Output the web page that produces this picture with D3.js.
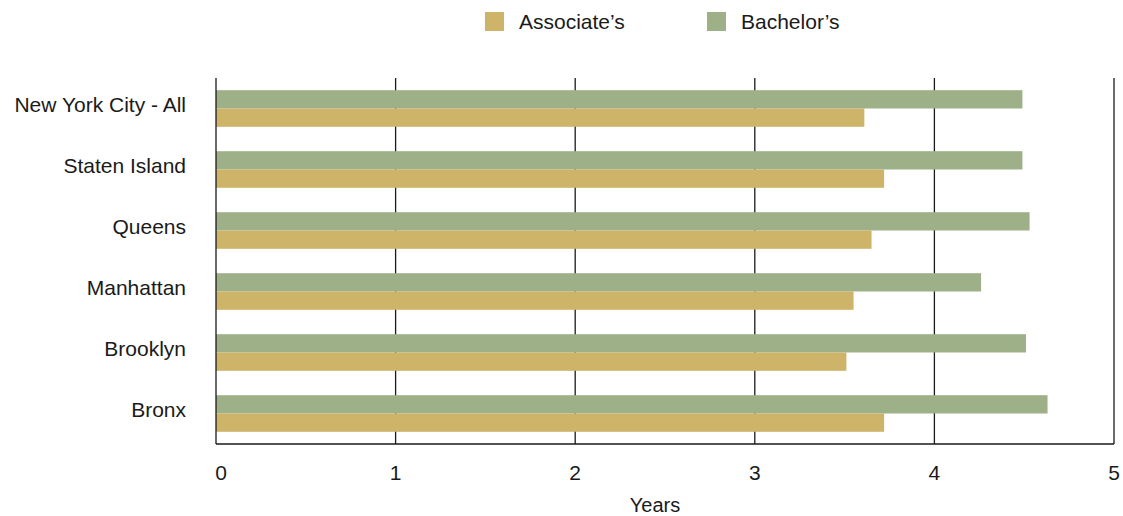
<!DOCTYPE html>
<html><head><meta charset="utf-8">
<script src="https://cdn.jsdelivr.net/npm/d3@7"></script>
<style>body{margin:0;background:#fff;}svg{display:block;font-family:"Liberation Sans",Arial,sans-serif;}</style>
</head><body>
<svg id="chart" width="1123" height="516"></svg>
<script>
const categories = ["New York City - All","Staten Island","Queens","Manhattan","Brooklyn","Bronx"];
const seriesNames = ["Bachelor’s","Associate’s"];
const bachelors = [4.49,4.49,4.53,4.26,4.51,4.63];
const associates = [3.61,3.72,3.65,3.55,3.51,3.72];
const xTicks = [0,1,2,3,4,5];
const colors = {"Associate’s":"#cdb468","Bachelor’s":"#9db088"};

(function(){
const svg = d3.select("#chart");
const pLeft=216, pRight=1114, pTop=78, pBottom=444;
const x = d3.scaleLinear().domain([0,5]).range([pLeft,pRight]);
const y = d3.scaleBand().domain(categories).range([pTop,pBottom]).paddingInner(0.4).paddingOuter(0.2);
const sub = d3.scaleBand().domain(seriesNames).range([0,y.bandwidth()]);

// gridlines
svg.append("g").selectAll("line").data(xTicks.slice(1)).join("line")
  .attr("x1",d=>x(d)).attr("x2",d=>x(d)).attr("y1",pTop).attr("y2",pBottom)
  .attr("stroke","#1a1a1a").attr("stroke-width",1.3);

const data = categories.map((c,i)=>({cat:c, vals:[{s:"Bachelor’s",v:bachelors[i]},{s:"Associate’s",v:associates[i]}]}));
const rows = svg.append("g").selectAll("g").data(data).join("g")
  .attr("transform",d=>`translate(0,${y(d.cat)})`);
rows.selectAll("rect").data(d=>d.vals).join("rect")
  .attr("x",x(0)).attr("y",d=>sub(d.s)).attr("height",sub.bandwidth())
  .attr("width",d=>x(d.v)-x(0)).attr("fill",d=>colors[d.s]);

// axes lines
svg.append("line").attr("x1",pLeft).attr("x2",pLeft).attr("y1",pTop).attr("y2",pBottom).attr("stroke","#1a1a1a").attr("stroke-width",1.3);
svg.append("line").attr("x1",pLeft).attr("x2",pRight).attr("y1",pBottom).attr("y2",pBottom).attr("stroke","#1a1a1a").attr("stroke-width",1.3);

// category labels
svg.append("g").selectAll("text").data(categories).join("text")
  .attr("x",186).attr("y",d=>y(d)+y.bandwidth()/2-4).attr("dy","0.35em")
  .attr("text-anchor","end").attr("font-size",21).attr("fill","#1a1a1a").text(d=>d);

// x tick labels
svg.append("g").selectAll("text").data(xTicks).join("text")
  .attr("x",d=>x(d)+(d===0?5:0)).attr("y",473).attr("dy","0.35em")
  .attr("text-anchor","middle").attr("font-size",21).attr("fill","#1a1a1a").text(d=>d);

svg.append("text").attr("x",655).attr("y",505).attr("dy","0.35em").attr("text-anchor","middle")
  .attr("font-size",20).attr("fill","#1a1a1a").text("Years");

// legend
const legendItems = [{s:"Associate’s",x:485},{s:"Bachelor’s",x:707}];
const lg = svg.append("g").selectAll("g").data(legendItems).join("g");
lg.append("rect").attr("x",d=>d.x).attr("y",12).attr("width",19).attr("height",19).attr("fill",d=>colors[d.s]);
lg.append("text").attr("x",d=>d.x+34).attr("y",21.5).attr("dy","0.35em").attr("font-size",21).attr("fill","#1a1a1a").text(d=>d.s);
})();
</script>
</body></html>
